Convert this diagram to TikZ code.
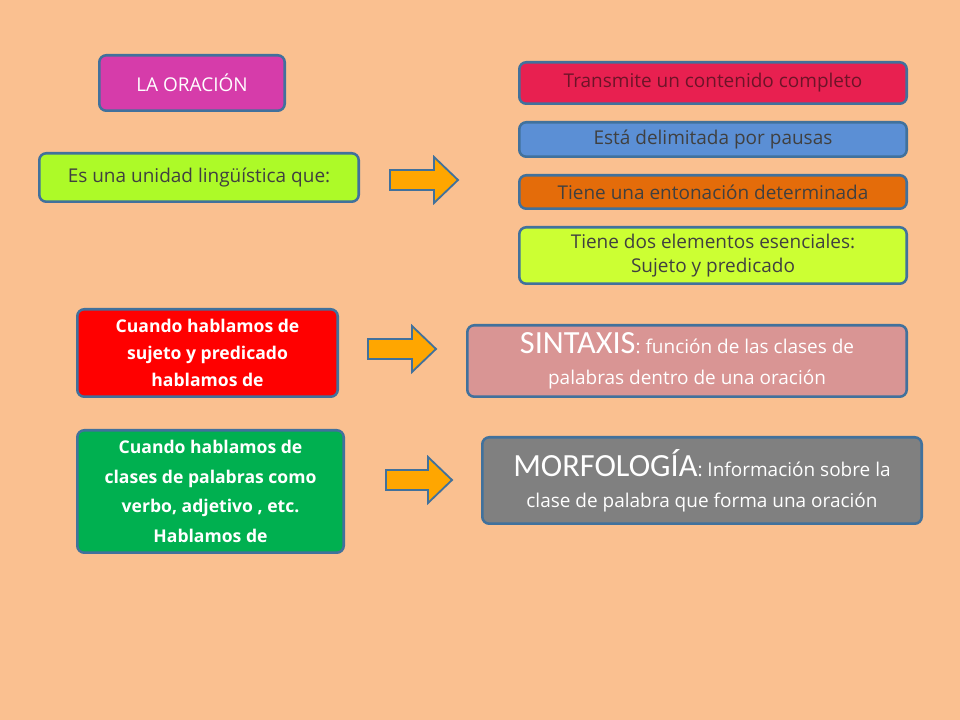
\documentclass[tikz,border=0pt]{standalone}
\usepackage{fontspec}
\setmainfont{Open Sans}
\newfontfamily\bigf{Carlito}
\definecolor{bg}{HTML}{FAC090}
\definecolor{edge}{HTML}{41719C}
\tikzset{
  box/.style={draw=edge,line width=1.8pt,rounded corners=5pt,inner sep=2pt,align=center,font=\fontsize{13.5}{19}\selectfont},
  arr/.style={draw=edge,line width=1.3pt,fill=orange!70!yellow,line join=miter}
}
\newcommand{\bx}[6]{\node[box,#5,minimum width=#3*0.025cm-1.8pt,minimum height=#4*0.025cm-1.8pt,anchor=north west] (#1) at (#2) {#6};}
\newcommand{\harrow}[4]{% x0, x1, ycenter, name
  \draw[arr] (#1,#3-10) -- (#2-24,#3-10) -- (#2-24,#3-23) -- (#2,#3) -- (#2-24,#3+23) -- (#2-24,#3+10) -- (#1,#3+10) -- cycle;
  \coordinate (#4) at (#2,#3);}
\begin{document}
\begin{tikzpicture}[x=0.025cm,y=-0.025cm]
\fill[bg] (0,0) rectangle (960,720);
\useasboundingbox (0,0) rectangle (960,720);
\bx{ora}{98,54}{188}{58}{fill={rgb,255:red,214;green,60;blue,170},text=white}{LA ORACIÓN}
\bx{uni}{38,152}{322}{51}{fill={rgb,255:red,173;green,250;blue,40},text=black!75}{Es una unidad lingüística que:}
\harrow{390}{458}{180}{a1}
\bx{t1}{518,61}{390}{44}{fill={rgb,255:red,232;green,32;blue,80},text={rgb,255:red,110;green,20;blue,40}}{Transmite un contenido completo}
\bx{t2}{518,121}{390}{37}{fill={rgb,255:red,91;green,143;blue,213},text=black!75}{Está delimitada por pausas}
\bx{t3}{518,174}{390}{36}{fill={rgb,255:red,228;green,108;blue,10},text=black!75}{Tiene una entonación determinada}
\bx{t4}{518,226}{390}{59}{fill={rgb,255:red,204;green,255;blue,51},text=black!75,font=\fontsize{13.5}{17}\selectfont}{Tiene dos elementos esenciales:\\Sujeto y predicado}
\bx{c1}{76,308}{263}{90}{fill=red,text=white,font=\fontsize{12.5}{19}\selectfont\bfseries}{Cuando hablamos de\\sujeto y predicado\\hablamos de}
\harrow{368}{436}{349}{a2}
\bx{sin}{466,324}{442}{74}{fill={rgb,255:red,217;green,149;blue,148},text=white,font=\fontsize{13.5}{22}\selectfont}{{\bigf\fontsize{23}{22}\selectfont SINTAXIS}: función de las clases de\\palabras dentro de una oración}
\bx{c2}{76,429}{269}{125}{fill={rgb,255:red,0;green,176;blue,80},text=white,font=\fontsize{12.5}{21}\selectfont\bfseries}{Cuando hablamos de\\clases de palabras como\\verbo, adjetivo , etc.\\Hablamos de}
\harrow{386}{452}{480}{a3}
\bx{mor}{481,436}{442}{89}{fill=gray,text=white,font=\fontsize{13.5}{22}\selectfont}{{\bigf\fontsize{23}{22}\selectfont MORFOLOGÍA}: Información sobre la\\clase de palabra que forma una oración}
\end{tikzpicture}
\end{document}
